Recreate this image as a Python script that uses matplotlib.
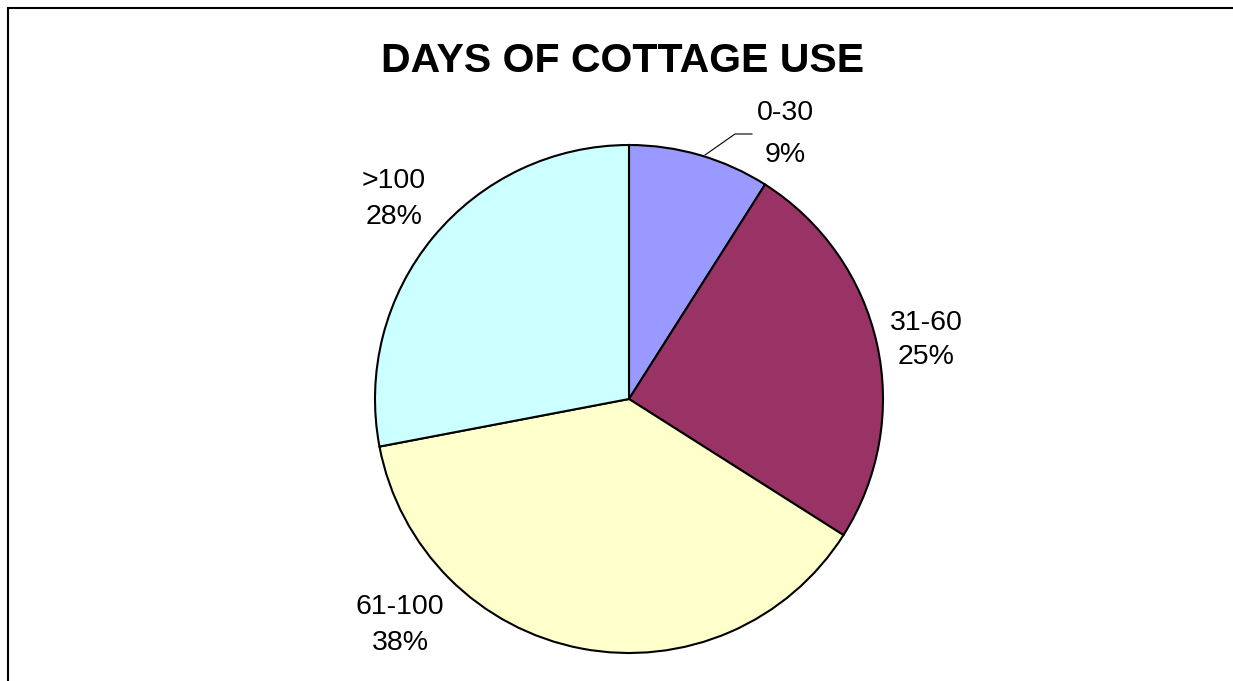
import matplotlib
matplotlib.use("Agg")
import matplotlib.pyplot as plt
from matplotlib.patches import Rectangle

plt.rcParams['font.family'] = ['Liberation Sans', 'DejaVu Sans']

# data
labels = ["0-30", "31-60", "61-100", ">100"]
shares = [9, 25, 38, 28]
colors = ["#9999FF", "#993366", "#FFFFCC", "#CCFFFF"]

W, H = 1233, 681
fig = plt.figure(figsize=(W / 100, H / 100), dpi=100)
ax = fig.add_axes([0, 0, 1, 1])

# outer frame (right/bottom edges fall outside the picture)
ax.add_patch(Rectangle((8, -20), W + 20, H - 8 + 20, fill=False,
                       edgecolor="black", linewidth=1.5))

cx, cy, r = 629, H - 399, 254
wedges, _ = ax.pie(shares, colors=colors, startangle=90, counterclock=False,
                   center=(cx, cy), radius=r, frame=True,
                   wedgeprops=dict(edgecolor="black", linewidth=1.5))
ax.set_xlim(0, W)
ax.set_ylim(0, H)
ax.set_aspect("equal")
ax.axis("off")

# label positions in pixels (x, y from top) and line spacing, as in the source
label_pos = {"0-30": (785, 134, 1.75), "31-60": (926, 340, 1.45),
             "61-100": (400, 625, 1.45), ">100": (394, 199, 1.45)}
for lab, s in zip(labels, shares):
    x, y, ls = label_pos[lab]
    ax.text(x, H - y, f"{lab}\n{s}%", ha="center", va="center",
            fontsize=20.5, linespacing=ls)

# leader line for the small slice
ax.plot([705, 735, 752], [H - 155, H - 134, H - 134], color="black", linewidth=0.8)

ax.text(623, H - 72, "DAYS OF COTTAGE USE", ha="center", va="baseline",
        fontsize=29.5, fontweight="bold")

fig.savefig("out.png", dpi=100)
